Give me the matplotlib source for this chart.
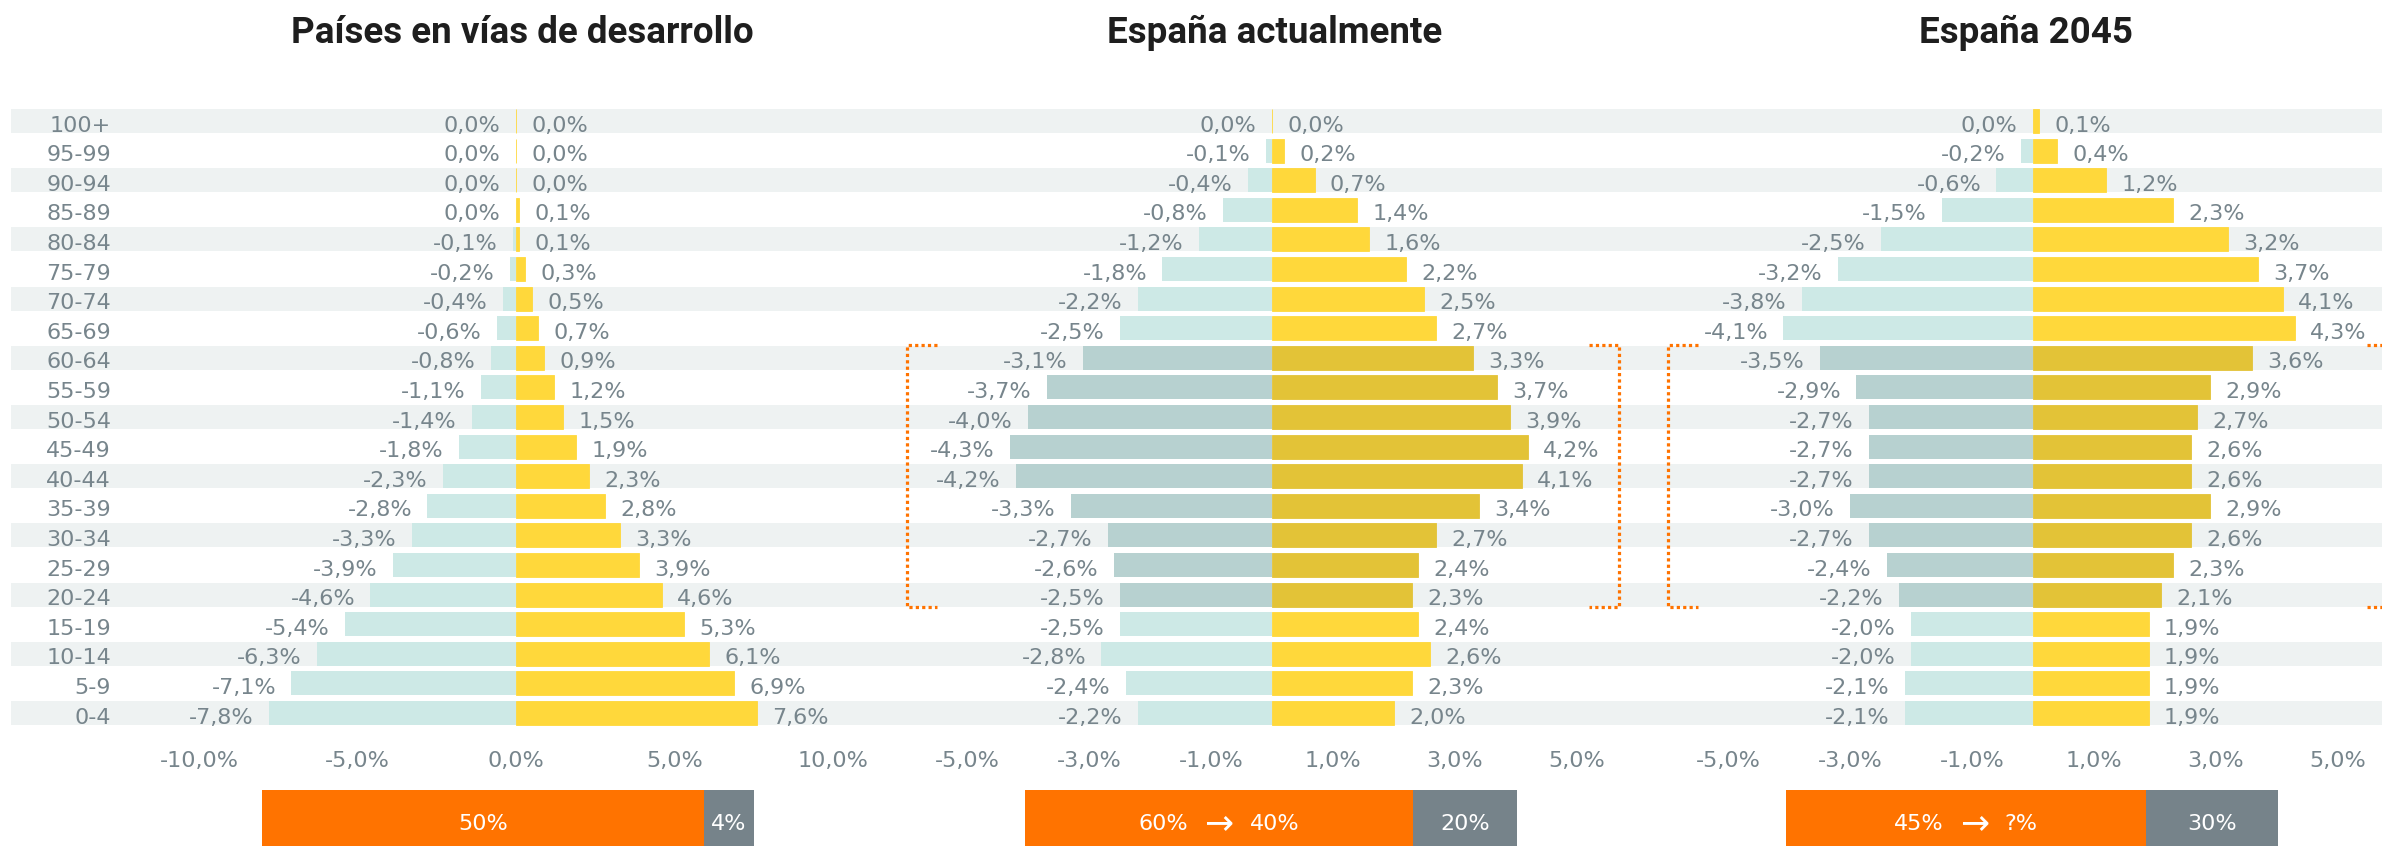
import matplotlib
matplotlib.use("Agg")
import matplotlib.pyplot as plt
import matplotlib.transforms as mtransforms
import matplotlib.font_manager as fm
from matplotlib.patches import Rectangle

# ---------------- data ----------------
ages = ["0-4", "5-9", "10-14", "15-19", "20-24", "25-29", "30-34", "35-39",
        "40-44", "45-49", "50-54", "55-59", "60-64", "65-69", "70-74",
        "75-79", "80-84", "85-89", "90-94", "95-99", "100+"]

titles = ["Países en vías de desarrollo", "España actualmente", "España 2045"]

dev_left = [-7.8, -7.1, -6.3, -5.4, -4.6, -3.9, -3.3, -2.8, -2.3, -1.8, -1.4,
            -1.1, -0.8, -0.6, -0.4, -0.2, -0.1, 0.0, 0.0, 0.0, 0.0]
dev_right = [7.6, 6.9, 6.1, 5.3, 4.6, 3.9, 3.3, 2.8, 2.3, 1.9, 1.5,
             1.2, 0.9, 0.7, 0.5, 0.3, 0.1, 0.1, 0.0, 0.0, 0.0]

esp_left = [-2.2, -2.4, -2.8, -2.5, -2.5, -2.6, -2.7, -3.3, -4.2, -4.3, -4.0,
            -3.7, -3.1, -2.5, -2.2, -1.8, -1.2, -0.8, -0.4, -0.1, 0.0]
esp_right = [2.0, 2.3, 2.6, 2.4, 2.3, 2.4, 2.7, 3.4, 4.1, 4.2, 3.9,
             3.7, 3.3, 2.7, 2.5, 2.2, 1.6, 1.4, 0.7, 0.2, 0.0]

e45_left = [-2.1, -2.1, -2.0, -2.0, -2.2, -2.4, -2.7, -3.0, -2.7, -2.7, -2.7,
            -2.9, -3.5, -4.1, -3.8, -3.2, -2.5, -1.5, -0.6, -0.2, 0.0]
e45_right = [1.9, 1.9, 1.9, 1.9, 2.1, 2.3, 2.6, 2.9, 2.6, 2.6, 2.7,
             2.9, 3.6, 4.3, 4.1, 3.7, 3.2, 2.3, 1.2, 0.4, 0.1]

ticks_dev = [-10, -5, 0, 5, 10]
ticks_esp = [-5, -3, -1, 1, 3, 5]

highlight_groups = ["20-24", "25-29", "30-34", "35-39", "40-44",
                    "45-49", "50-54", "55-59", "60-64"]

box_main_labels = [["50%"], ["60%", "40%"], ["45%", "?%"]]
box_side_labels = ["4%", "20%", "30%"]

# ---------------- style ----------------
TXT = "#77858c"
BAND = "#eef2f2"
TEAL = "#cde9e6"
TEAL_D = "#b7d1d0"
YEL = "#ffd83b"
YEL_D = "#e3c337"
ORANGE = "#ff7300"
GREY = "#76838a"
FS = 16

names = {f.name for f in fm.fontManager.ttflist}
TITLE_FAMILY = "Roboto" if "Roboto" in names else "DejaVu Sans"
TITLE_SIZE = 26.5 if TITLE_FAMILY == "Roboto" else 21.5
plt.rcParams["font.family"] = ["DejaVu Sans"]

W, H = 2382, 846
fig = plt.figure(figsize=(W / 100, H / 100), dpi=100)


def rect(l, t, r, b):
    return [l / W, 1 - b / H, (r - l) / W, (b - t) / H]


AX_TOP, AX_BOT = 106.2, 727.8
BAR_H = 0.81
yidx = list(range(len(ages)))

# background bands spanning the whole width
axbg = fig.add_axes(rect(11, AX_TOP, W, AX_BOT))
axbg.set_xlim(0, 1)
axbg.set_ylim(-0.5, len(ages) - 0.5)
axbg.axis("off")
band_rows = [i for i in yidx if i % 2 == 0]
axbg.barh(band_rows, [1] * len(band_rows), left=0, height=BAR_H, color=BAND)

panels = [
    dict(zero=516, ppu=31.65, xlim=(-11, 11), left=dev_left, right=dev_right,
         ticks=ticks_dev, hl=False, tx=522),
    dict(zero=1272, ppu=60.9, xlim=(-6, 6), left=esp_left, right=esp_right,
         ticks=ticks_esp, hl=True, tx=1275, br=(-6.0, 5.70)),
    dict(zero=2033, ppu=60.9, xlim=(-6, (W - 2033) / 60.9), left=e45_left,
         right=e45_right, ticks=ticks_esp, hl=True, tx=2026, br=(-6.0, 5.98)),
]


def fmt(v):
    if v == 0:
        return "0,0%"
    return f"{v:.1f}".replace(".", ",") + "%"


axes = []
for n, p in enumerate(panels):
    l_px = p["zero"] + p["xlim"][0] * p["ppu"]
    r_px = p["zero"] + p["xlim"][1] * p["ppu"]
    ax = fig.add_axes(rect(l_px, AX_TOP, r_px, AX_BOT))
    ax.set_facecolor("none")
    ax.set_xlim(*p["xlim"])
    ax.set_ylim(-0.5, len(ages) - 0.5)
    for s in ax.spines.values():
        s.set_visible(False)
    ax.set_yticks([])
    hl = [p["hl"] and a in highlight_groups for a in ages]
    cl = [TEAL_D if h else TEAL for h in hl]
    cr = [YEL_D if h else YEL for h in hl]
    ax.barh(yidx, p["left"], height=BAR_H, color=cl, linewidth=0)
    ax.barh(yidx, p["right"], height=BAR_H, color=cr, edgecolor=cr,
            linewidth=0.6)
    for i, (vl, vr) in enumerate(zip(p["left"], p["right"])):
        ax.annotate(fmt(vl), xy=(vl, i), xytext=(-11, -7.7),
                    textcoords="offset points", ha="right", va="baseline",
                    fontsize=FS, color=TXT, annotation_clip=False)
        ax.annotate(fmt(vr), xy=(vr, i), xytext=(11, -7.7),
                    textcoords="offset points", ha="left", va="baseline",
                    fontsize=FS, color=TXT, annotation_clip=False)
    ax.set_xticks(p["ticks"])
    ax.set_xticklabels([fmt(t) for t in p["ticks"]])
    ax.tick_params(axis="x", length=0, pad=28, labelsize=FS, labelcolor=TXT)
    plt.setp(ax.get_xticklabels(), va="baseline")
    if "br" in p:
        x0, x1 = p["br"]
        arm = 30 / p["ppu"]
        top, bot = 12 + BAR_H / 2 + 0.03, 4 - BAR_H / 2 - 0.01
        kw = dict(color=ORANGE, lw=2.3, ls=(0, (1, 1)), clip_on=False,
                  solid_capstyle="butt", dash_capstyle="butt")
        ax.plot([x0 + arm, x0, x0, x0 + arm], [top, top, bot, bot], **kw)
        ax.plot([x1 - arm, x1, x1, x1 - arm], [top, top, bot, bot], **kw)
    fig.text(p["tx"] / W, 1 - 43 / H, titles[n], family=TITLE_FAMILY,
             fontsize=TITLE_SIZE, fontweight="bold", color="#1e1e1e",
             ha="center", va="baseline")
    axes.append(ax)

# age labels on the first panel
trans = mtransforms.blended_transform_factory(fig.transFigure, axes[0].transData)
for i, a in enumerate(ages):
    axes[0].annotate(a, xy=(111 / W, i), xycoords=trans, xytext=(0, -7.7),
                     textcoords="offset points", ha="right", va="baseline",
                     fontsize=FS, color=TXT, annotation_clip=False)

# bottom boxes
box_left = [262, 1025, 1786]
box_w = 492
grey_w = [50, 104, 132]
BOX_T, BOX_B = 790, 850
renderer = fig.canvas.get_renderer()
for k in range(3):
    l = box_left[k]
    split = l + box_w - grey_w[k]
    fig.patches.append(Rectangle((l / W, 1 - BOX_B / H), (split - l) / W,
                                 (BOX_B - BOX_T) / H, transform=fig.transFigure,
                                 facecolor=ORANGE, edgecolor="none"))
    fig.patches.append(Rectangle((split / W, 1 - BOX_B / H),
                                 (l + box_w - split) / W, (BOX_B - BOX_T) / H,
                                 transform=fig.transFigure, facecolor=GREY,
                                 edgecolor="none"))
    base_y = 1 - 830 / H
    fig.text((split + (l + box_w - split) / 2) / W, base_y, box_side_labels[k],
             fontsize=FS, color="white", ha="center", va="baseline")
    parts = box_main_labels[k]
    cx = (l + split) / 2
    if len(parts) == 1:
        fig.text(cx / W, base_y, parts[0], fontsize=FS, color="white",
                 ha="center", va="baseline")
    else:
        t1 = fig.text(0, base_y, parts[0], fontsize=FS, color="white",
                      ha="left", va="baseline")
        ta = fig.text(0, 1 - 833 / H, "→", fontsize=25, color="white",
                      ha="left", va="baseline")
        t2 = fig.text(0, base_y, parts[1], fontsize=FS, color="white",
                      ha="left", va="baseline")
        gap = 16
        w1 = t1.get_window_extent(renderer).width
        wa = ta.get_window_extent(renderer).width
        w2 = t2.get_window_extent(renderer).width
        total = w1 + wa + w2 + 2 * gap
        x = cx - total / 2
        t1.set_x(x / W)
        ta.set_x((x + w1 + gap) / W)
        t2.set_x((x + w1 + wa + 2 * gap) / W)

fig.savefig("out.png", dpi=100, facecolor="white")
